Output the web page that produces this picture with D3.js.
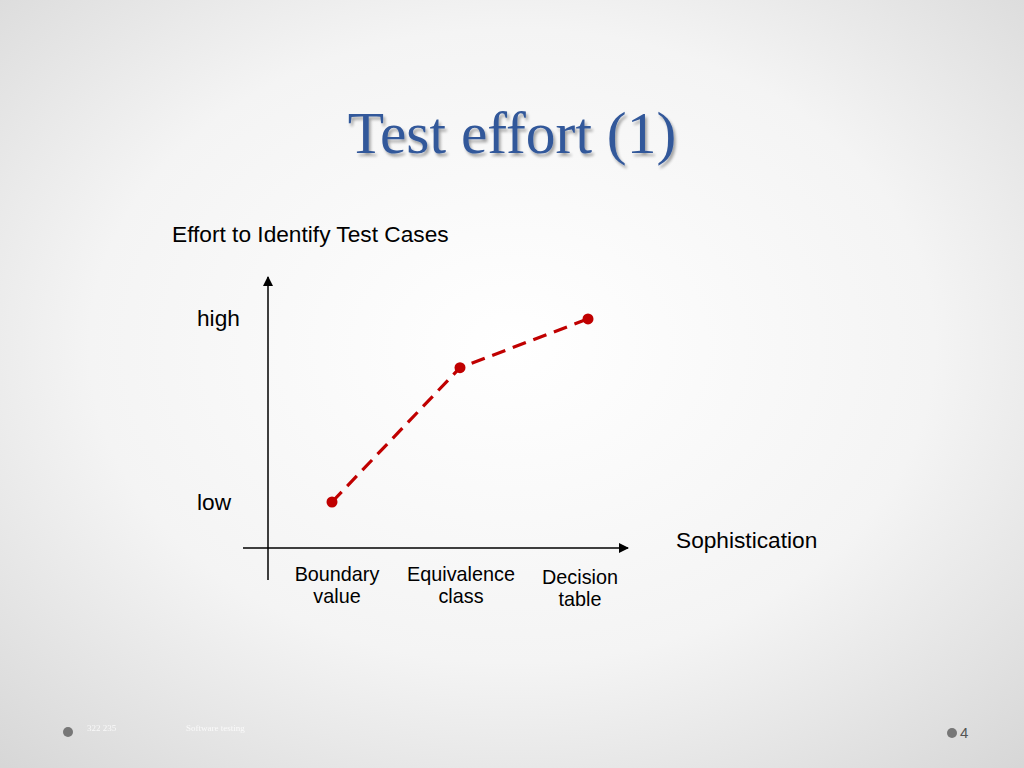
<!DOCTYPE html>
<html><head><meta charset="utf-8">
<script src="https://cdn.jsdelivr.net/npm/d3@7"></script>
<style>html,body{margin:0;padding:0;overflow:hidden;background:#eee}</style>
</head><body>
<svg id="c" width="1024" height="768"></svg>
<script>
const categories = ["Boundary value", "Equivalence class", "Decision table"];
const categoryLines = [["Boundary", "value"], ["Equivalence", "class"], ["Decision", "table"]];
const effort = [0.0, 0.73, 0.995];
const yTickLabels = ["low", "high"];
const yTickValues = [0, 1];
const title = "Test effort (1)";
const yTitle = "Effort to Identify Test Cases";
const xTitle = "Sophistication";
const footerLeft = "322 235";
const footerMid = "Software testing";
const pageNum = "4";

const svg = d3.select("#c");
const defs = svg.append("defs");
const rg = defs.append("radialGradient").attr("id","bg").attr("cx","50%").attr("cy","45%").attr("r","75%");
rg.append("stop").attr("offset","0%").attr("stop-color","#ffffff");
rg.append("stop").attr("offset","55%").attr("stop-color","#f4f4f4");
rg.append("stop").attr("offset","100%").attr("stop-color","#d6d6d6");
svg.append("rect").attr("width",1024).attr("height",768).attr("fill","url(#bg)");

const f = defs.append("filter").attr("id","sh").attr("x","-10%").attr("y","-10%").attr("width","130%").attr("height","140%");
f.append("feGaussianBlur").attr("in","SourceAlpha").attr("stdDeviation",1.5).attr("result","b");
f.append("feOffset").attr("in","b").attr("dx",2).attr("dy",3).attr("result","o");
f.append("feComponentTransfer").attr("in","o").attr("result","o2").append("feFuncA").attr("type","linear").attr("slope",0.35);
const fm = f.append("feMerge"); fm.append("feMergeNode").attr("in","o2"); fm.append("feMergeNode").attr("in","SourceGraphic");

svg.append("text").attr("x",512).attr("y",153).attr("text-anchor","middle")
  .attr("font-family","'Liberation Serif','DejaVu Serif',serif").attr("font-size",59.5)
  .attr("fill","#33589a").attr("filter","url(#sh)").text(title);

// scales
const x = d3.scalePoint().domain(categories).range([332, 588]);
const y = d3.scaleLinear().domain([0,1]).range([502, 318]);

const sans = "'Liberation Sans',Arial,sans-serif";
// arrow marker
const mk = defs.append("marker").attr("id","arr").attr("viewBox","0 0 10 10").attr("refX",9).attr("refY",5)
  .attr("markerWidth",10).attr("markerHeight",10).attr("markerUnits","userSpaceOnUse").attr("orient","auto");
mk.append("path").attr("d","M0,0 L10,5 L0,10 Z").attr("fill","#000");

// axes lines
svg.append("line").attr("x1",268).attr("y1",580).attr("x2",268).attr("y2",277)
  .attr("stroke","#000").attr("stroke-width",1.5).attr("marker-end","url(#arr)");
svg.append("line").attr("x1",243).attr("y1",548).attr("x2",628).attr("y2",548)
  .attr("stroke","#000").attr("stroke-width",1.5).attr("marker-end","url(#arr)");

// y tick labels
svg.selectAll("text.yt").data(yTickValues).enter().append("text").attr("class","yt")
  .attr("x",197).attr("y",d=>y(d)).attr("dy","0.35em")
  .attr("font-family",sans).attr("font-size",22.7).attr("fill","#000")
  .text((d,i)=>yTickLabels[i]);

// x category labels
const xoff = [5, 1, -8];
const yoff = [0, 0, 3];
categories.forEach((c,i)=>{
  const t = svg.append("text").attr("text-anchor","middle").attr("font-family",sans).attr("font-size",19.8).attr("fill","#000");
  categoryLines[i].forEach((ln,j)=>{
    t.append("tspan").attr("x",x(c)+xoff[i]).attr("y",581+yoff[i]+j*22).text(ln);
  });
});

// titles
svg.append("text").attr("x",172).attr("y",242).attr("font-family",sans).attr("font-size",22.7).attr("fill","#000").text(yTitle);
svg.append("text").attr("x",676).attr("y",548).attr("font-family",sans).attr("font-size",22.7).attr("fill","#000").text(xTitle);

// line
const data = categories.map((c,i)=>({c, v: effort[i]}));
svg.append("path").datum(data)
  .attr("d", d3.line().x(d=>x(d.c)).y(d=>y(d.v)))
  .attr("fill","none").attr("stroke","#c00000").attr("stroke-width",3.2).attr("stroke-dasharray","14,8");
svg.selectAll("circle.pt").data(data).enter().append("circle").attr("class","pt")
  .attr("cx",d=>x(d.c)).attr("cy",d=>y(d.v)).attr("r",5.5).attr("fill","#c00000");

// footer
svg.append("circle").attr("cx",68).attr("cy",732).attr("r",5).attr("fill","#777");
svg.append("text").attr("x",87).attr("y",731).attr("font-family","'Liberation Serif',serif").attr("font-size",9).attr("fill","#fff").attr("opacity",0.8).text(footerLeft);
svg.append("text").attr("x",186).attr("y",731).attr("font-family","'Liberation Serif',serif").attr("font-size",9).attr("fill","#fff").attr("opacity",0.8).text(footerMid);
svg.append("circle").attr("cx",952).attr("cy",733).attr("r",5).attr("fill","#777");
svg.append("text").attr("x",960).attr("y",738).attr("font-family",sans).attr("font-size",15).attr("fill","#555").text(pageNum);
</script>
</body></html>
